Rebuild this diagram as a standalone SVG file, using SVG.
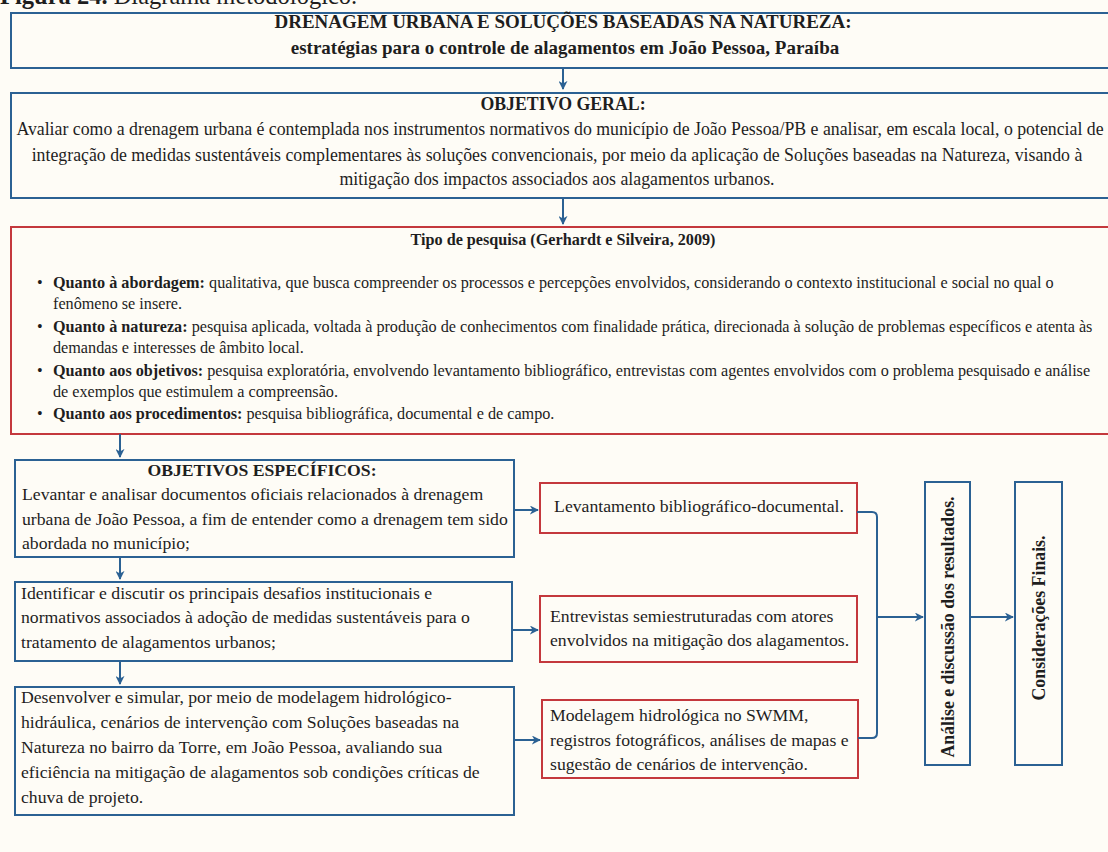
<svg xmlns="http://www.w3.org/2000/svg" width="1108" height="852" viewBox="0 0 1108 852">
<defs>
<marker id="ah" viewBox="0 0 10 10" refX="9" refY="5" markerWidth="4.5" markerHeight="4.5" orient="auto" markerUnits="strokeWidth">
<path d="M0,0 L10,5 L0,10 L3,5 z" fill="#2B6193"/>
</marker>
<style>
text{font-family:"Liberation Serif","Times New Roman",serif;fill:#1e1e1e}
.b{font-weight:bold}
.blue{fill:#FEFCF6;stroke:#2B6193;stroke-width:2}
.red{fill:#FEFCF6;stroke:#C4383D;stroke-width:2}
.c{stroke:#2B6193;stroke-width:2;fill:none}
.t19{font-size:19px}
.t18{font-size:17.8px}
.t17{font-size:17.7px}
.t16{font-size:16.2px}
.m{text-anchor:middle}
</style>
</defs>
<rect x="0" y="0" width="1108" height="852" fill="#FEFCF6"/>
<text x="0" y="4" style="font-size:24.5px"><tspan class="b">Figura 24.</tspan> Diagrama metodológico.</text>

<g id="titulo">
<rect class="blue" x="11" y="13" width="1110" height="55"/>
<text class="b t19 m" x="563" y="28">DRENAGEM URBANA E SOLUÇÕES BASEADAS NA NATUREZA:</text>
<text class="b t19 m" x="565" y="54">estratégias para o controle de alagamentos em João Pessoa, Paraíba</text>
</g>

<g id="objetivo-geral">
<rect class="blue" x="11" y="93" width="1110" height="105"/>
<text class="b t18 m" x="563" y="110">OBJETIVO GERAL:</text>
<text class="t18 m" x="560" y="135">Avaliar como a drenagem urbana é contemplada nos instrumentos normativos do município de João Pessoa/PB e analisar, em escala local, o potencial de</text>
<text class="t18 m" x="557" y="161">integração de medidas sustentáveis complementares às soluções convencionais, por meio da aplicação de Soluções baseadas na Natureza, visando à</text>
<text class="t18 m" x="557" y="185">mitigação dos impactos associados aos alagamentos urbanos.</text>
</g>

<g id="tipo-pesquisa">
<rect class="red" x="11" y="227" width="1110" height="207"/>
<text class="b t16 m" x="563" y="245">Tipo de pesquisa (Gerhardt e Silveira, 2009)</text>
<text class="t16" x="37" y="288">•</text>
<text class="t16" x="53" y="288"><tspan class="b">Quanto à abordagem:</tspan> qualitativa, que busca compreender os processos e percepções envolvidos, considerando o contexto institucional e social no qual o</text>
<text class="t16" x="53" y="309">fenômeno se insere.</text>
<text class="t16" x="37" y="332">•</text>
<text class="t16" x="53" y="332"><tspan class="b">Quanto à natureza:</tspan> pesquisa aplicada, voltada à produção de conhecimentos com finalidade prática, direcionada à solução de problemas específicos e atenta às</text>
<text class="t16" x="53" y="353">demandas e interesses de âmbito local.</text>
<text class="t16" x="37" y="376">•</text>
<text class="t16" x="53" y="376"><tspan class="b">Quanto aos objetivos:</tspan> pesquisa exploratória, envolvendo levantamento bibliográfico, entrevistas com agentes envolvidos com o problema pesquisado e análise</text>
<text class="t16" x="53" y="397">de exemplos que estimulem a compreensão.</text>
<text class="t16" x="37" y="419">•</text>
<text class="t16" x="53" y="419"><tspan class="b">Quanto aos procedimentos:</tspan> pesquisa bibliográfica, documental e de campo.</text>
</g>

<g id="objetivo-especifico-1">
<rect class="blue" x="15" y="460" width="499" height="97"/>
<text class="b t17 m" x="262" y="476">OBJETIVOS ESPECÍFICOS:</text>
<text class="t17" x="22" y="500"> Levantar e analisar documentos oficiais relacionados à drenagem</text>
<text class="t17" x="22" y="525">urbana de João Pessoa, a fim de entender como a drenagem tem sido</text>
<text class="t17" x="22" y="549">abordada no município;</text>
</g>

<g id="objetivo-especifico-2">
<rect class="blue" x="15" y="582" width="497" height="79"/>
<text class="t17" x="21" y="599">Identificar e discutir os principais desafios institucionais e</text>
<text class="t17" x="21" y="623">normativos associados à adoção de medidas sustentáveis para o</text>
<text class="t17" x="21" y="648">tratamento de alagamentos urbanos;</text>
</g>

<g id="objetivo-especifico-3">
<rect class="blue" x="15" y="687" width="499" height="128"/>
<text class="t17" x="21" y="703">Desenvolver e simular, por meio de modelagem hidrológico-</text>
<text class="t17" x="21" y="728">hidráulica, cenários de intervenção com Soluções baseadas na</text>
<text class="t17" x="21" y="753">Natureza no bairro da Torre, em João Pessoa, avaliando sua</text>
<text class="t17" x="21" y="778">eficiência na mitigação de alagamentos sob condições críticas de</text>
<text class="t17" x="21" y="803">chuva de projeto.</text>
</g>

<g id="metodo-1">
<rect class="red" x="540" y="483" width="317" height="50"/>
<text class="t17 m" x="699" y="512">Levantamento bibliográfico-documental.</text>
</g>

<g id="metodo-2">
<rect class="red" x="540" y="596" width="317" height="66"/>
<text class="t17" x="550" y="622">Entrevistas semiestruturadas com atores</text>
<text class="t17" x="550" y="646">envolvidos na mitigação dos alagamentos.</text>
</g>

<g id="metodo-3">
<rect class="red" x="542" y="700" width="316" height="78"/>
<text class="t17" x="550" y="721">Modelagem hidrológica no SWMM,</text>
<text class="t17" x="550" y="746">registros fotográficos, análises de mapas e</text>
<text class="t17" x="550" y="770">sugestão de cenários de intervenção.</text>
</g>

<g id="analise">
<rect class="blue" x="925" y="482" width="45" height="283"/>
<text class="b t18 m" transform="translate(954,627) rotate(-90)" x="0" y="0">Análise e discussão dos resultados.</text>
</g>

<g id="consideracoes">
<rect class="blue" x="1015" y="482" width="47" height="283"/>
<text class="b t18 m" transform="translate(1045,618) rotate(-90)" x="0" y="0">Considerações Finais.</text>
</g>

<g id="conectores">
<path class="c" d="M563,68 V89" marker-end="url(#ah)"/>
<path class="c" d="M563,198 V224" marker-end="url(#ah)"/>
<path class="c" d="M120,434 V457" marker-end="url(#ah)"/>
<path class="c" d="M120,557 V579" marker-end="url(#ah)"/>
<path class="c" d="M120,661 V684" marker-end="url(#ah)"/>
<path class="c" d="M514,510 H538" marker-end="url(#ah)"/>
<path class="c" d="M512,630 H538" marker-end="url(#ah)"/>
<path class="c" d="M514,740 H540" marker-end="url(#ah)"/>
<path class="c" d="M857,512 H872 Q877,512 877,517 V733 Q877,738 872,738 H858"/>
<path class="c" d="M877,617 H923" marker-end="url(#ah)"/>
<path class="c" d="M970,617 H1013" marker-end="url(#ah)"/>
</g>
</svg>
